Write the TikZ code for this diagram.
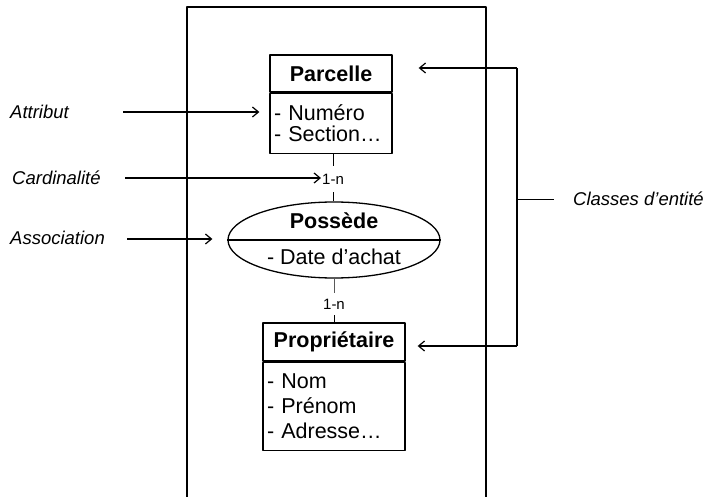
\documentclass[tikz,border=0pt]{standalone}
\usepackage{fontspec}
\setmainfont{Liberation Sans}
\usetikzlibrary{positioning,shapes.geometric,arrows.meta}
\begin{document}
\begin{tikzpicture}[x=1pt, y=-1pt, line join=round,
	>={Straight Barb[length=6pt,width=10pt]},
	cadre/.style={line width=1.3pt},
	entete/.style={draw, line width=1.3pt, minimum height=37pt, inner sep=0pt,
		font=\fontsize{21.5}{24}\selectfont\bfseries},
	corps/.style={draw, line width=1.3pt, align=left, inner xsep=4pt, inner ysep=0pt,
		font=\fontsize{21.5}{21}\selectfont},
	texte/.style={inner sep=1pt, font=\fontsize{21.5}{24}\selectfont},
	legende/.style={inner sep=2pt, font=\fontsize{18.5}{22}\selectfont\itshape},
	card/.style={inner sep=1pt, minimum height=26pt, font=\fontsize{15}{18}\selectfont},
	fleche/.style={->, line width=1.2pt},
	lien/.style={line width=0.9pt}]
	\useasboundingbox (0,0) rectangle (709,497);
	% cadre
	\draw[cadre] (187,497) -- (187,7) -- (486,7) -- (486,497);
	% entites et association
	\node[entete, minimum width=122pt] (parcelle) at (331,73.5) {Parcelle};
	\node[corps, text width=114pt, minimum height=60pt, below=0pt of parcelle]
		(parcelleAttr) {- Numéro\\- Section…};
	\node[draw, ellipse, line width=1.3pt, minimum width=212pt, minimum height=76pt,
		inner sep=0pt] (possede) at (334,240) {};
	\draw[cadre] (possede.west) -- (possede.east);
	\node[texte, font=\fontsize{21.5}{24}\selectfont\bfseries] (possedeNom) at (334,221) {Possède};
	\node[texte] (possedeAttr) at (334,257) {- Date d’achat};
	\node[entete, minimum width=142pt, minimum height=38pt] (proprio) at (334,342) {Propriétaire};
	\node[corps, text width=134pt, minimum height=88pt, below=0pt of proprio,
		font=\fontsize{21.5}{25}\selectfont] (proprioAttr) {- Nom\\- Prénom\\- Adresse…};
	% cardinalites
	\node[card] (card1) at (333,179) {1-n};
	\node[card, minimum height=22pt] (card2) at (334,304) {1-n};
	\draw[lien] (parcelleAttr.south -| card1) -- (card1.north);
	\draw[lien] (card1.south) -- (card1.south |- possede.north);
	\draw[lien, black!65] (possede.south -| card2) -- (card2.north);
	\draw[lien] (card2.south) -- (card2.south |- proprio.north);
	% legendes a gauche
	\node[legende, anchor=west] (attribut) at (8,112) {Attribut};
	\node[legende, anchor=west] (cardinalite) at (10,178) {Cardinalité};
	\node[legende, anchor=west] (association) at (8,238) {Association};
	\path
	(123,112) coordinate (dAttr)
	(125,178) coordinate (dCard)
	(127,239) coordinate (dAsso)
	;
	\draw[fleche, shorten >=10pt] (dAttr) -- (dAttr -| parcelleAttr.west);
	\draw[fleche] (dCard) -- (dCard -| card1.west);
	\draw[fleche, shorten >=15pt] (dAsso) -- (dAsso -| possede.west);
	% classes d'entite
	\node[legende, anchor=west] (classes) at (571,199) {Classes d’entité};
	\path
	(517,68) coordinate (cHaut)
	(517,346) coordinate (cBas)
	;
	\draw[line width=1.2pt] (cHaut) -- (cBas);
	\draw[fleche, shorten >=26pt] (cHaut) -- (cHaut -| parcelle.east);
	\draw[fleche, shorten >=12pt] (cBas) -- (cBas -| proprio.east);
	\draw[lien] (cHaut |- classes) -- ([xshift=-17pt]classes.west);
\end{tikzpicture}
\end{document}
